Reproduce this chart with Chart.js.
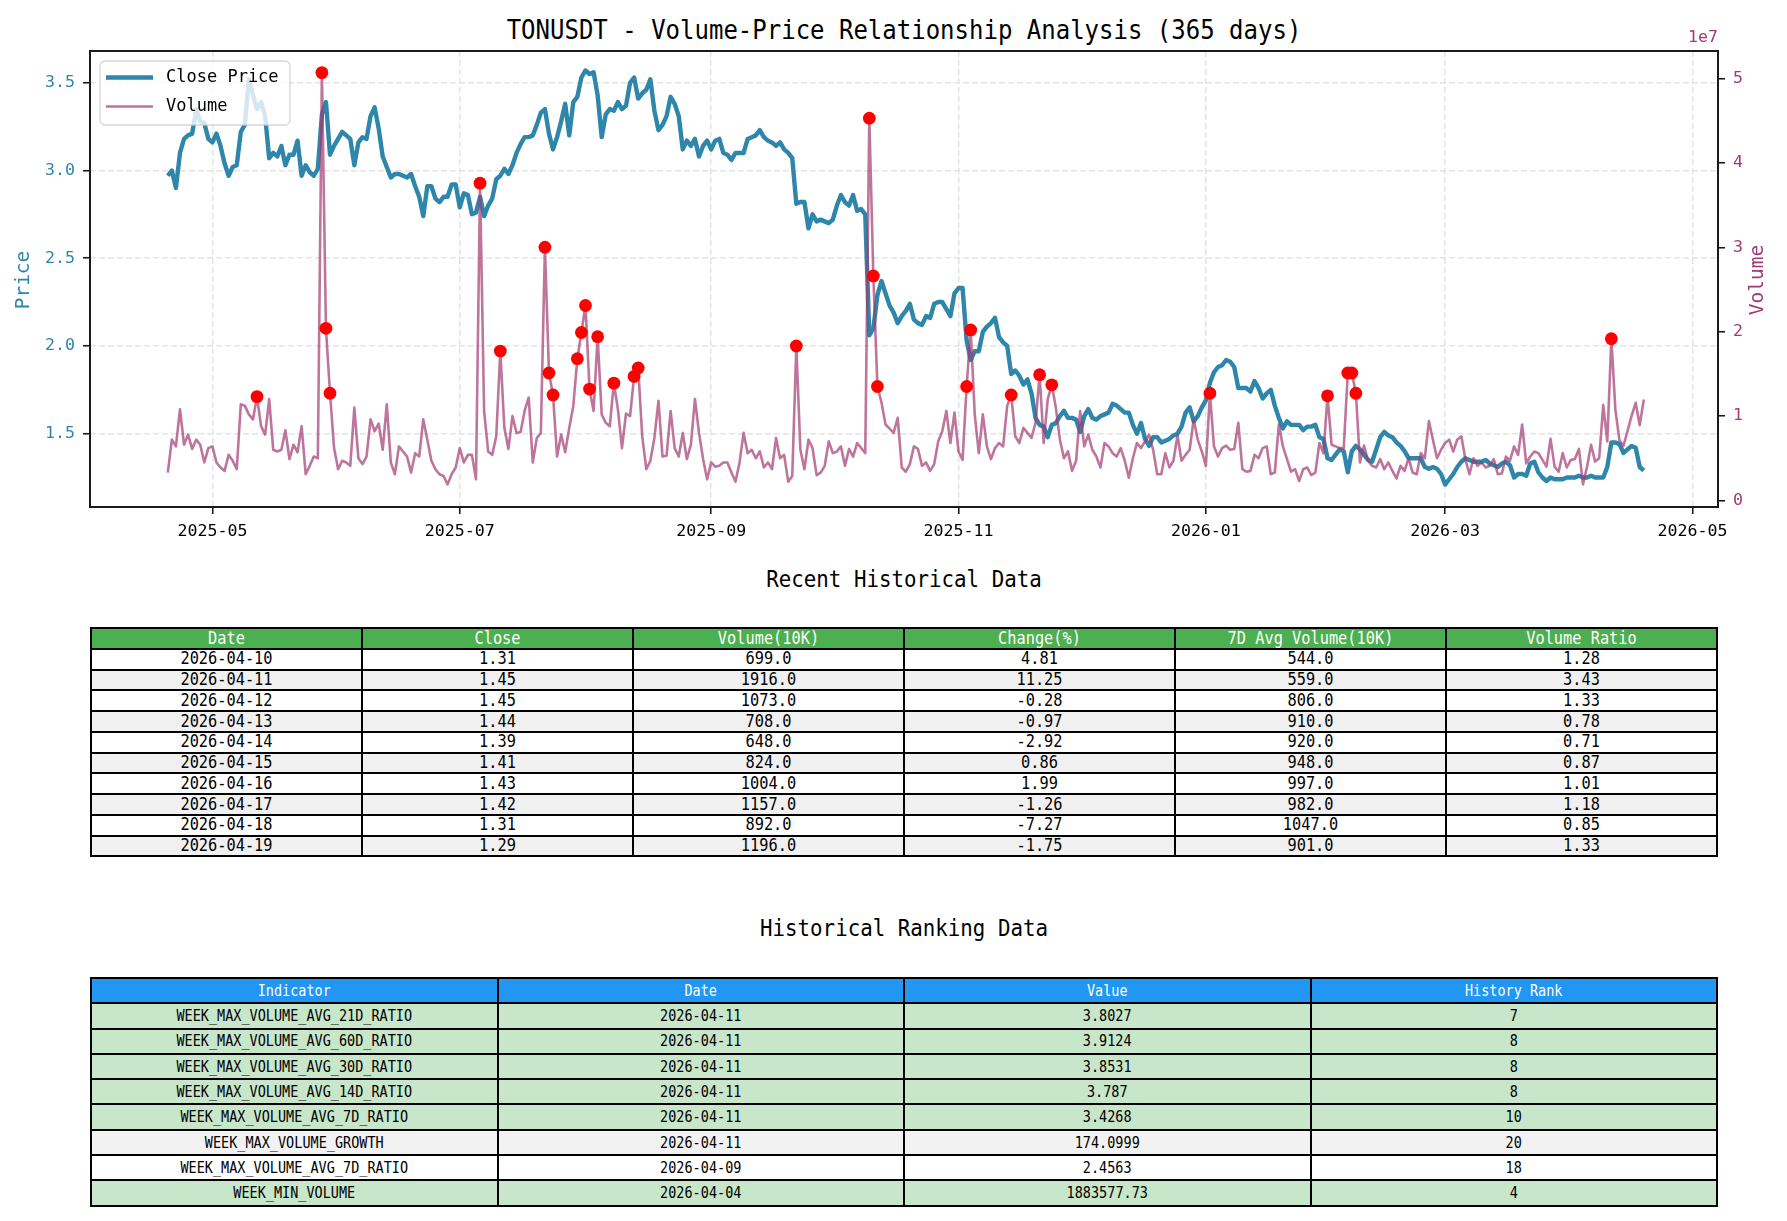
<!DOCTYPE html>
<html>
<head>
<meta charset="utf-8">
<title>TONUSDT - Volume-Price Relationship Analysis</title>
<script src="https://cdn.jsdelivr.net/npm/chart.js@4.4.1/dist/chart.umd.min.js"></script>
<style>
  html, body { margin: 0; padding: 0; background: #fff; }
  body { width: 1787px; height: 1221px; position: relative; overflow: hidden;
         font-family: 'DejaVu Sans Mono', 'Liberation Mono', monospace; color: #000; }
  #chartBox { position: absolute; left: 0; top: 0; width: 1787px; height: 560px; }
  .heading { position: absolute; left: 904px; transform: translateX(-50%) scaleY(1.08); white-space: nowrap; line-height: 1; }
  .tbl { position: absolute; left: 90px; width: 1628px; border-collapse: collapse; table-layout: fixed; }
  .tbl td { border: 2px solid #000; padding: 0; text-align: center; white-space: nowrap; overflow: hidden; line-height: 1; }
  .tbl td span { display: inline-block; transform: scaleY(1.15); }
  #recent td { font-size: 15.3px; }
  #recent tr { height: 20.75px; }
  #ranking td { font-size: 13.5px; }
  #ranking tr { height: 25.3px; }
  .tbl tr.head td { color: #fff; }
</style>
</head>
<body>

<div class="heading" style="top:18px; font-size:24px;">TONUSDT - Volume-Price Relationship Analysis (365 days)</div>
<div id="chartBox"><canvas id="timelineChart" width="1787" height="560"></canvas></div>

<div class="heading" style="top:569px; font-size:20.8px;">Recent Historical Data</div>
<table class="tbl" id="recent" style="top:627px;"></table>

<div class="heading" style="top:918px; font-size:20.8px;">Historical Ranking Data</div>
<table class="tbl" id="ranking" style="top:977px;"></table>

<script>
// ---- data ----
const startDate = '2025-04-20';

// daily close, 2025-04-20 .. 2026-04-19
const closePrice = [
  2.97, 3.00, 2.90, 3.10, 3.18, 3.20, 3.21, 3.35, 3.28, 3.27,
  3.18, 3.16, 3.21, 3.14, 3.04, 2.97, 3.02, 3.03, 3.22, 3.26,
  3.52, 3.43, 3.35, 3.39, 3.31, 3.07, 3.10, 3.08, 3.14, 3.03,
  3.09, 3.09, 3.17, 2.97, 3.03, 2.99, 2.97, 3.01, 3.32, 3.39,
  3.09, 3.14, 3.18, 3.22, 3.20, 3.18, 3.03, 3.16, 3.19, 3.18,
  3.31, 3.36, 3.24, 3.08, 3.02, 2.96, 2.98, 2.98, 2.97, 2.96,
  2.98, 2.91, 2.85, 2.74, 2.91, 2.91, 2.84, 2.82, 2.85, 2.85,
  2.92, 2.92, 2.79, 2.87, 2.86, 2.75, 2.76, 2.85, 2.74, 2.80,
  2.84, 2.95, 2.97, 3.01, 2.98, 3.03, 3.10, 3.15, 3.19, 3.19,
  3.20, 3.26, 3.33, 3.35, 3.21, 3.12, 3.19, 3.28, 3.38, 3.20,
  3.39, 3.42, 3.53, 3.57, 3.55, 3.56, 3.43, 3.19, 3.32, 3.35,
  3.34, 3.39, 3.35, 3.37, 3.50, 3.53, 3.41, 3.44, 3.46, 3.52,
  3.34, 3.23, 3.26, 3.31, 3.42, 3.38, 3.31, 3.12, 3.17, 3.14,
  3.18, 3.08, 3.14, 3.17, 3.12, 3.17, 3.18, 3.10, 3.09, 3.06,
  3.10, 3.10, 3.10, 3.18, 3.19, 3.20, 3.23, 3.19, 3.17, 3.16,
  3.14, 3.16, 3.12, 3.10, 3.07, 2.81, 2.82, 2.82, 2.67, 2.75,
  2.71, 2.72, 2.71, 2.70, 2.72, 2.80, 2.86, 2.82, 2.80, 2.86,
  2.77, 2.78, 2.75, 2.06, 2.10, 2.29, 2.37, 2.30, 2.23, 2.19,
  2.13, 2.17, 2.20, 2.24, 2.15, 2.13, 2.12, 2.17, 2.16, 2.24,
  2.25, 2.25, 2.21, 2.17, 2.30, 2.33, 2.33, 2.03, 1.92, 1.97,
  1.97, 2.08, 2.11, 2.13, 2.16, 2.05, 2.02, 2.00, 1.84, 1.86,
  1.83, 1.78, 1.81, 1.73, 1.59, 1.55, 1.54, 1.48, 1.55, 1.56,
  1.60, 1.63, 1.59, 1.59, 1.58, 1.51, 1.60, 1.64, 1.59, 1.58,
  1.60, 1.61, 1.62, 1.67, 1.66, 1.64, 1.62, 1.62, 1.55, 1.50,
  1.56, 1.47, 1.43, 1.48, 1.48, 1.45, 1.46, 1.47, 1.49, 1.50,
  1.54, 1.62, 1.65, 1.57, 1.60, 1.65, 1.69, 1.79, 1.85, 1.88,
  1.89, 1.92, 1.91, 1.88, 1.76, 1.76, 1.76, 1.74, 1.80, 1.76,
  1.70, 1.73, 1.75, 1.66, 1.59, 1.53, 1.57, 1.55, 1.55, 1.55,
  1.52, 1.54, 1.54, 1.55, 1.48, 1.47, 1.36, 1.35, 1.38, 1.41,
  1.40, 1.28, 1.40, 1.43, 1.41, 1.38, 1.35, 1.34, 1.41, 1.48,
  1.51, 1.49, 1.48, 1.45, 1.43, 1.40, 1.36, 1.36, 1.36, 1.36,
  1.31, 1.30, 1.31, 1.30, 1.27, 1.21, 1.24, 1.27, 1.31, 1.34,
  1.36, 1.35, 1.34, 1.34, 1.34, 1.35, 1.33, 1.32, 1.31, 1.33,
  1.34, 1.32, 1.25, 1.27, 1.27, 1.26, 1.33, 1.34, 1.28, 1.25,
  1.23, 1.25, 1.24, 1.24, 1.24, 1.25, 1.25, 1.25, 1.26, 1.25,
  1.25, 1.26, 1.25, 1.25, 1.25, 1.31, 1.45, 1.45, 1.44, 1.39,
  1.41, 1.43, 1.42, 1.31, 1.29
];

// daily volume, in units of 1e7
const volumeE7 = [
  0.33, 0.72, 0.64, 1.08, 0.66, 0.78, 0.61, 0.72, 0.66, 0.45,
  0.62, 0.64, 0.45, 0.39, 0.35, 0.54, 0.47, 0.37, 1.14, 1.12,
  1.02, 0.96, 1.23, 0.88, 0.78, 1.20, 0.60, 0.58, 0.60, 0.83,
  0.49, 0.66, 0.57, 0.88, 0.31, 0.41, 0.52, 0.50, 5.07, 2.04,
  1.27, 0.62, 0.37, 0.47, 0.45, 0.41, 1.10, 0.50, 0.43, 0.52,
  0.96, 0.82, 0.91, 0.60, 1.14, 0.45, 0.31, 0.64, 0.58, 0.52,
  0.33, 0.56, 0.52, 0.96, 0.72, 0.47, 0.37, 0.31, 0.29, 0.19,
  0.31, 0.39, 0.62, 0.45, 0.54, 0.54, 0.25, 3.76, 1.06, 0.58,
  0.54, 0.76, 1.77, 0.86, 0.61, 1.00, 0.80, 0.81, 1.06, 1.22,
  0.45, 0.74, 0.80, 3.00, 1.51, 1.25, 0.52, 0.78, 0.57, 0.86,
  1.12, 1.68, 1.99, 2.31, 1.32, 1.06, 1.94, 1.02, 0.92, 0.88,
  1.39, 1.08, 0.62, 1.03, 1.00, 1.47, 1.57, 0.76, 0.37, 0.47,
  0.74, 1.18, 0.52, 0.53, 1.06, 0.62, 0.52, 0.80, 0.49, 0.66,
  1.20, 0.80, 0.49, 0.25, 0.45, 0.40, 0.41, 0.45, 0.45, 0.33,
  0.22, 0.45, 0.80, 0.56, 0.60, 0.50, 0.58, 0.39, 0.45, 0.37,
  0.74, 0.50, 0.54, 0.22, 0.29, 1.83, 0.60, 0.37, 0.72, 0.62,
  0.30, 0.33, 0.41, 0.70, 0.56, 0.58, 0.64, 0.41, 0.61, 0.52,
  0.68, 0.62, 0.56, 4.53, 2.66, 1.35, 1.16, 0.90, 0.85, 0.80,
  0.98, 0.39, 0.34, 0.43, 0.64, 0.61, 0.41, 0.45, 0.35, 0.43,
  0.70, 0.82, 1.06, 0.68, 1.04, 0.58, 0.48, 1.35, 2.02, 1.02,
  0.56, 1.02, 0.64, 0.49, 0.62, 0.68, 0.64, 1.12, 1.25, 0.76,
  0.68, 0.86, 0.80, 0.74, 0.92, 1.49, 0.68, 1.20, 1.37, 1.10,
  0.72, 0.50, 0.58, 0.35, 0.47, 1.06, 0.64, 0.78, 0.60, 0.52,
  0.39, 0.68, 0.64, 0.56, 0.52, 0.62, 0.47, 0.27, 0.50, 0.68,
  0.62, 0.70, 0.78, 0.60, 0.31, 0.31, 0.56, 0.39, 0.47, 0.77,
  0.47, 0.54, 0.60, 0.96, 0.72, 0.58, 0.41, 1.27, 0.64, 0.52,
  0.62, 0.65, 0.60, 0.61, 0.92, 0.37, 0.34, 0.35, 0.54, 0.50,
  0.62, 0.64, 0.31, 0.33, 0.90, 0.64, 0.49, 0.34, 0.37, 0.23,
  0.37, 0.39, 0.30, 0.33, 0.68, 0.56, 1.24, 0.66, 0.64, 0.62,
  0.62, 1.51, 1.51, 1.27, 0.45, 0.65, 0.47, 0.41, 0.39, 0.49,
  0.37, 0.45, 0.35, 0.26, 0.41, 0.35, 0.50, 0.33, 0.31, 0.56,
  0.50, 0.94, 0.72, 0.50, 0.60, 0.68, 0.72, 0.58, 0.72, 0.76,
  0.49, 0.31, 0.50, 0.41, 0.45, 0.39, 0.41, 0.49, 0.31, 0.32,
  0.52, 0.47, 0.64, 0.54, 0.90, 0.44, 0.52, 0.58, 0.56, 0.48,
  0.40, 0.73, 0.40, 0.34, 0.56, 0.39, 0.48, 0.49, 0.61, 0.19,
  0.40, 0.66, 0.46, 0.50, 1.13, 0.699, 1.916, 1.073, 0.708, 0.648,
  0.824, 1.004, 1.157, 0.892, 1.196
];

// days (index from startDate) flagged as volume spikes
const spikeDays = [22, 38, 39, 40, 77, 82, 93, 94, 95, 101, 102, 103, 104, 106, 110, 115, 116,
  155, 173, 174, 175, 197, 198, 208, 215, 218, 257, 286, 291, 292, 293, 356];

const xTickDates = ['2025-05-01', '2025-07-01', '2025-09-01', '2025-11-01', '2026-01-01', '2026-03-01', '2026-05-01'];
const xTickLabels = ['2025-05', '2025-07', '2025-09', '2025-11', '2026-01', '2026-03', '2026-05'];
const priceTicks = [1.5, 2.0, 2.5, 3.0, 3.5];
const volumeTicks = [0, 1, 2, 3, 4, 5];

// tables
const recentDates = ['2026-04-10', '2026-04-11', '2026-04-12', '2026-04-13', '2026-04-14',
  '2026-04-15', '2026-04-16', '2026-04-17', '2026-04-18', '2026-04-19'];
const recentClose = [1.31, 1.45, 1.45, 1.44, 1.39, 1.41, 1.43, 1.42, 1.31, 1.29];
const recentVolume10k = [699.0, 1916.0, 1073.0, 708.0, 648.0, 824.0, 1004.0, 1157.0, 892.0, 1196.0];
const recentChange = [4.81, 11.25, -0.28, -0.97, -2.92, 0.86, 1.99, -1.26, -7.27, -1.75];
const recentAvgVolume10k = [544.0, 559.0, 806.0, 910.0, 920.0, 948.0, 997.0, 982.0, 1047.0, 901.0];
const recentRatio = [1.28, 3.43, 1.33, 0.78, 0.71, 0.87, 1.01, 1.18, 0.85, 1.33];
const recentHeaders = ['Date', 'Close', 'Volume(10K)', 'Change(%)', '7D Avg Volume(10K)', 'Volume Ratio'];

const rankHeaders = ['Indicator', 'Date', 'Value', 'History Rank'];
const rankIndicators = ['WEEK_MAX_VOLUME_AVG_21D_RATIO', 'WEEK_MAX_VOLUME_AVG_60D_RATIO',
  'WEEK_MAX_VOLUME_AVG_30D_RATIO', 'WEEK_MAX_VOLUME_AVG_14D_RATIO', 'WEEK_MAX_VOLUME_AVG_7D_RATIO',
  'WEEK_MAX_VOLUME_GROWTH', 'WEEK_MAX_VOLUME_AVG_7D_RATIO', 'WEEK_MIN_VOLUME'];
const rankDates = ['2026-04-11', '2026-04-11', '2026-04-11', '2026-04-11', '2026-04-11',
  '2026-04-11', '2026-04-09', '2026-04-04'];
const rankValues = ['3.8027', '3.9124', '3.8531', '3.787', '3.4268', '174.0999', '2.4563', '1883577.73'];
const rankPositions = [7, 8, 8, 8, 10, 20, 18, 4];

// ---- helpers ----
const PRICE_COLOR = '#2E86AB';
const VOLUME_COLOR = '#A23B72';
const FONT = "'DejaVu Sans Mono', 'Liberation Mono', monospace";

function dayIndex(s) {
  const [y, m, d] = s.split('-').map(Number);
  const [y0, m0, d0] = startDate.split('-').map(Number);
  return Math.round((Date.UTC(y, m - 1, d) - Date.UTC(y0, m0 - 1, d0)) / 86400000);
}
const xTickDays = xTickDates.map(dayIndex);

// frame, legend, axis titles drawn over the plot like matplotlib does
const overlayPlugin = {
  id: 'overlay',
  afterDatasetsDraw(chart) {
    const { ctx, chartArea: a } = chart;
    ctx.save();
    ctx.strokeStyle = '#1a1a1a';
    ctx.lineWidth = 2;
    ctx.strokeRect(a.left, a.top, a.right - a.left, a.bottom - a.top);

    // legend
    const lx = a.left + 10, ly = a.top + 10;
    ctx.beginPath();
    ctx.roundRect(lx, ly, 190, 64, 5);
    ctx.fillStyle = 'rgba(255,255,255,0.8)';
    ctx.fill();
    ctx.strokeStyle = 'rgba(204,204,204,0.8)';
    ctx.lineWidth = 1.3;
    ctx.stroke();

    ctx.lineCap = 'butt';
    ctx.strokeStyle = PRICE_COLOR;
    ctx.lineWidth = 4.4;
    ctx.beginPath(); ctx.moveTo(lx + 6, ly + 16.5); ctx.lineTo(lx + 53, ly + 16.5); ctx.stroke();
    ctx.strokeStyle = 'rgba(162,59,114,0.7)';
    ctx.lineWidth = 2.6;
    ctx.beginPath(); ctx.moveTo(lx + 6, ly + 45.5); ctx.lineTo(lx + 53, ly + 45.5); ctx.stroke();

    ctx.fillStyle = '#000';
    ctx.font = '17px ' + FONT;
    ctx.textBaseline = 'middle';
    ctx.textAlign = 'left';
    ctx.fillText('Close Price', lx + 66, ly + 17);
    ctx.fillText('Volume', lx + 66, ly + 46);
    ctx.restore();
  },
  afterDraw(chart) {
    const { ctx, chartArea: a } = chart;
    ctx.save();
    ctx.font = '19.5px ' + FONT;
    ctx.textAlign = 'center';
    ctx.textBaseline = 'middle';
    const midY = (a.top + a.bottom) / 2;

    ctx.fillStyle = PRICE_COLOR;
    ctx.translate(24, midY + 1);
    ctx.rotate(-Math.PI / 2);
    ctx.fillText('Price', 0, 0);
    ctx.setTransform(1, 0, 0, 1, 0, 0);

    ctx.fillStyle = VOLUME_COLOR;
    ctx.translate(1758, midY + 1);
    ctx.rotate(-Math.PI / 2);
    ctx.fillText('Volume', 0, 0);
    ctx.setTransform(1, 0, 0, 1, 0, 0);

    ctx.font = '16.5px ' + FONT;
    ctx.fillText('1e7', 1703, 38);
    ctx.restore();
  }
};

const gridStyle = {
  color: '#e4e4e4',
  lineWidth: 1.5,
  drawTicks: true,
  tickLength: 7,
  tickColor: '#1a1a1a',
  tickWidth: 1.6,
  tickBorderDash: []
};

function renderVolumePriceChart() {
  const chartCanvas = document.getElementById('timelineChart');
  if (!chartCanvas) return;
  const ctx = chartCanvas.getContext('2d');

  const pricePoints = closePrice.map((v, i) => ({ x: i, y: v }));
  const volumePoints = volumeE7.map((v, i) => ({ x: i, y: v }));
  const spikePoints = spikeDays.map(i => ({ x: i, y: volumeE7[i] }));

  window.volumePriceChart = new Chart(ctx, {
    type: 'line',
    data: {
      datasets: [
        {
          label: 'Close Price',
          data: pricePoints,
          borderColor: PRICE_COLOR,
          borderWidth: 4.4,
          pointRadius: 0,
          tension: 0,
          borderJoinStyle: 'round',
          yAxisID: 'yPrice',
          order: 3
        },
        {
          label: 'Volume',
          data: volumePoints,
          borderColor: 'rgba(162, 59, 114, 0.7)',
          borderWidth: 2.6,
          pointRadius: 0,
          tension: 0,
          borderJoinStyle: 'round',
          yAxisID: 'yVolume',
          order: 2
        },
        {
          label: 'Spikes',
          type: 'scatter',
          data: spikePoints,
          backgroundColor: '#ff0000',
          borderWidth: 0,
          pointRadius: 6.4,
          yAxisID: 'yVolume',
          order: 1
        }
      ]
    },
    options: {
      responsive: false,
      animation: false,
      events: [],
      layout: { padding: { top: 51, left: 0, right: 0, bottom: 0 } },
      plugins: {
        legend: { display: false },
        tooltip: { enabled: false }
      },
      scales: {
        x: {
          type: 'linear',
          min: -19.19,
          max: 382.3,
          afterBuildTicks: (scale) => { scale.ticks = xTickDays.map(v => ({ value: v })); },
          afterFit: (scale) => { scale.height = 53; },
          grid: gridStyle,
          border: { display: false, dash: [6, 3] },
          ticks: {
            autoSkip: false,
            maxRotation: 0,
            padding: 8,
            color: '#000',
            font: { family: FONT, size: 16.6 },
            callback: (val) => xTickLabels[xTickDays.indexOf(val)] || ''
          }
        },
        yPrice: {
          type: 'linear',
          position: 'left',
          min: 1.082,
          max: 3.681,
          afterBuildTicks: (scale) => { scale.ticks = priceTicks.map(v => ({ value: v })); },
          afterFit: (scale) => { scale.width = 90; },
          grid: gridStyle,
          border: { display: false, dash: [6, 3] },
          ticks: {
            padding: 8,
            color: PRICE_COLOR,
            font: { family: FONT, size: 16.6 },
            callback: (val) => val.toFixed(1)
          }
        },
        yVolume: {
          type: 'linear',
          position: 'right',
          min: -0.078,
          max: 5.326,
          afterBuildTicks: (scale) => { scale.ticks = volumeTicks.map(v => ({ value: v })); },
          afterFit: (scale) => { scale.width = 1787 - 1718; },
          grid: { ...gridStyle, drawOnChartArea: false },
          border: { display: false },
          ticks: {
            padding: 8,
            color: VOLUME_COLOR,
            font: { family: FONT, size: 16.6 },
            callback: (val) => String(val)
          }
        }
      }
    },
    plugins: [overlayPlugin]
  });
}

function buildTables() {
  const recent = document.getElementById('recent');
  let html = '<tr class="head">' + recentHeaders.map(h => `<td style="background:#4CAF50"><span>${h}</span></td>`).join('') + '</tr>';
  recentDates.forEach((d, i) => {
    const bg = i % 2 === 0 ? '#ffffff' : '#f0f0f0';
    const cells = [d, recentClose[i].toFixed(2), recentVolume10k[i].toFixed(1), recentChange[i].toFixed(2),
      recentAvgVolume10k[i].toFixed(1), recentRatio[i].toFixed(2)];
    html += '<tr>' + cells.map(c => `<td style="background:${bg}"><span>${c}</span></td>`).join('') + '</tr>';
  });
  recent.innerHTML = html;

  const ranking = document.getElementById('ranking');
  let html2 = '<tr class="head">' + rankHeaders.map(h => `<td style="background:#2196F3"><span>${h}</span></td>`).join('') + '</tr>';
  rankIndicators.forEach((name, i) => {
    const bg = rankPositions[i] <= 10 ? '#c8e6c9' : (i % 2 === 1 ? '#f2f2f2' : '#ffffff');
    const cells = [name, rankDates[i], rankValues[i], rankPositions[i]];
    html2 += '<tr>' + cells.map(c => `<td style="background:${bg}"><span>${c}</span></td>`).join('') + '</tr>';
  });
  ranking.innerHTML = html2;
}

buildTables();
renderVolumePriceChart();
</script>
</body>
</html>
